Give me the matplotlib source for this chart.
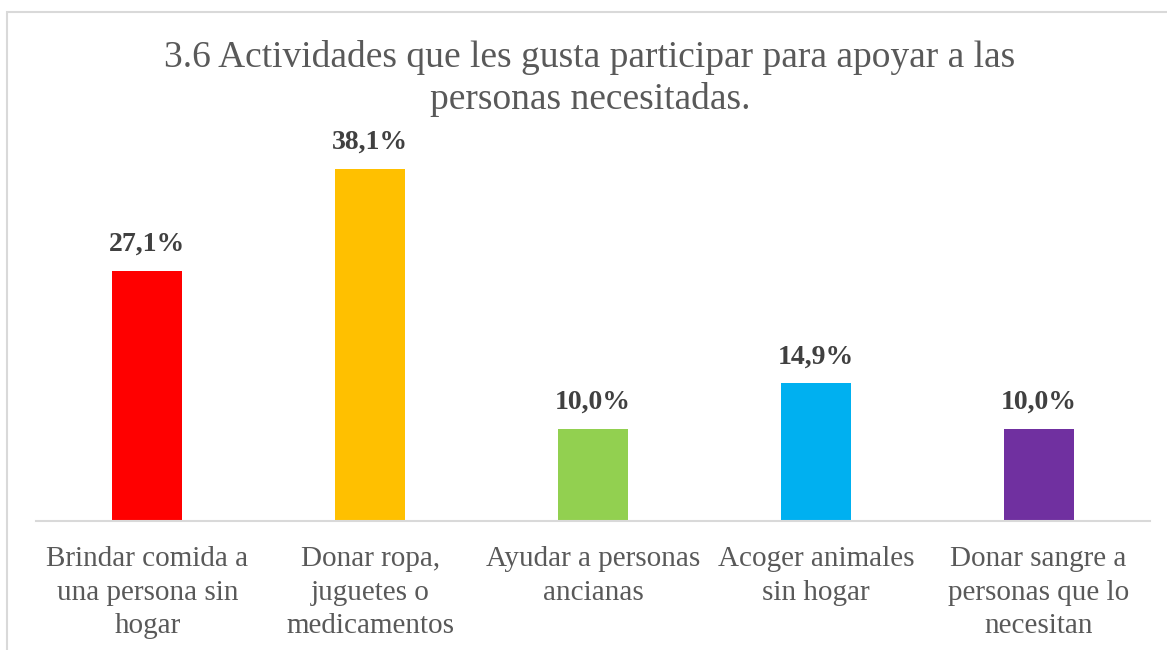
import matplotlib.pyplot as plt
from matplotlib.patches import Rectangle

# Chart data
categories = ["Brindar comida a\nuna persona sin\nhogar",
              "Donar ropa,\njuguetes o\nmedicamentos",
              "Ayudar a personas\nancianas",
              "Acoger animales\nsin hogar",
              "Donar sangre a\npersonas que lo\nnecesitan"]
values = [27.1, 38.1, 10.0, 14.9, 10.0]
labels = ["27,1%", "38,1%", "10,0%", "14,9%", "10,0%"]
colors = ["#FF0000", "#FFC000", "#92D050", "#00B0F0", "#7030A0"]

plt.rcParams['font.family'] = ['Liberation Serif', 'DejaVu Serif']

W, H = 1167, 650
fig = plt.figure(figsize=(W / 100, H / 100), dpi=100)

# light frame around the chart (cut off at right/bottom like the source)
fig.patches.append(Rectangle((7 / W, -0.1), 1.2, 1 - 12 / H + 0.1, transform=fig.transFigure,
                             fill=False, edgecolor="#D9D9D9", linewidth=1.5))

ax = fig.add_axes([36 / W, 1 - 521 / H, (1150 - 36) / W, (521 - 130) / H])
x = range(len(categories))
bars = ax.bar(x, values, width=0.315, color=colors)
ax.set_xlim(-0.5, len(categories) - 0.5)
ax.set_ylim(0, (521 - 130) / 9.24)

for b, lab in zip(bars, labels):
    ax.annotate(lab, (b.get_x() + b.get_width() / 2, b.get_height()),
                xytext=(0, 10), textcoords="offset points", ha="center", va="bottom",
                fontsize=20, fontweight="bold", color="#404040")

ax.set_xticks(list(x))
ax.set_xticklabels(categories, fontsize=21, color="#595959", linespacing=1.38)
ax.tick_params(axis="x", length=0, pad=18)
ax.set_yticks([])
for s in ["top", "right", "left"]:
    ax.spines[s].set_visible(False)
ax.spines["bottom"].set_color("#D9D9D9")
ax.spines["bottom"].set_linewidth(1.5)

fig.text(590 / W, 1 - 40 / H,
         "3.6 Actividades que les gusta participar para apoyar a las\npersonas necesitadas.",
         ha="center", va="top", fontsize=27, color="#595959", linespacing=1.27)

fig.savefig("out.png", dpi=100)
